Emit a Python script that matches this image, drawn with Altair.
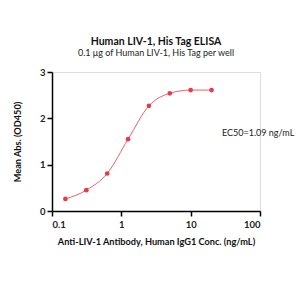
import altair as alt
import pandas as pd

conc = [0.156, 0.3125, 0.625, 1.25, 2.5, 5, 10, 20]
od = [0.26, 0.45, 0.81, 1.55, 2.27, 2.54, 2.61, 2.61]

df = pd.DataFrame({"conc": conc, "od": od})
red = "#e8394a"
font = "Lato"

x = alt.X("conc:Q", scale=alt.Scale(type="log", domain=[0.1, 100]),
          axis=alt.Axis(title="Anti-LIV-1 Antibody, Human IgG1 Conc. (ng/mL)",
                        values=[0.1, 1, 10, 100], format="~g", grid=False,
                        domainColor="black", tickColor="black", domainWidth=1.5, tickWidth=1.5,
                        tickSize=5, labelFontWeight="bold", labelFontSize=9.5, labelColor="#222",
                        titleFontSize=9.2, titleFontWeight="bold", titlePadding=9, titleColor="#111",
                        labelFont=font, titleFont=font, labelPadding=3))
y = alt.Y("od:Q", scale=alt.Scale(domain=[0, 3]),
          axis=alt.Axis(title="Mean Abs. (OD450)", values=[0, 1, 2, 3], grid=False,
                        domainColor="black", tickColor="black", domainWidth=1.5, tickWidth=1.5,
                        tickSize=5, labelFontWeight="bold", labelFontSize=9.5, labelColor="#222",
                        titleFontSize=9.2, titleFontWeight="bold", titlePadding=17, titleColor="#111",
                        labelFont=font, titleFont=font, labelPadding=2))

line = alt.Chart(df).mark_line(color=red, strokeWidth=1, interpolate="monotone", opacity=0.8).encode(x=x, y=y)
pts = alt.Chart(df).mark_point(color=red, filled=True, size=22, opacity=1).encode(x=x, y=y)
ec = alt.Chart(pd.DataFrame({"t": ["EC50=1.09 ng/mL"]})).mark_text(
    align="left", baseline="middle", font=font, fontSize=9, color="#222"
).encode(x=alt.value(170), y=alt.value(61), text="t:N")

chart = (line + pts + ec).properties(
    width=208, height=139,
    autosize=alt.AutoSizeParams(type="none"),
    padding={"left": 52, "top": 72, "right": 40, "bottom": 89},
    title=alt.Title("Human LIV-1, His Tag ELISA",
                    subtitle="0.1 μg of Human LIV-1, His Tag per well",
                    font=font, fontSize=10.5, fontWeight="bold", color="#111",
                    subtitleFont=font, subtitleFontSize=9, subtitleColor="#222",
                    anchor="middle", offset=9, subtitlePadding=2),
).configure_view(stroke=None).configure(background="white")

chart.save("out.html", embed_options={"renderer": "svg", "actions": False})
